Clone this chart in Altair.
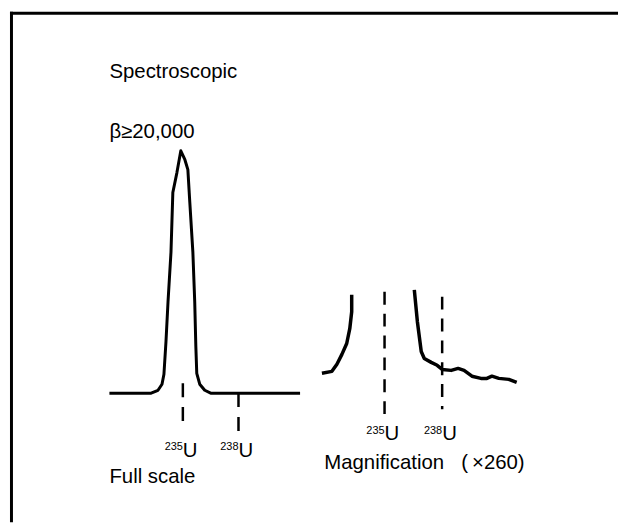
import altair as alt
import pandas as pd

# ---------------- data (mass in u, intensity in % of 235U peak) ----------------
# Full-scale trace
full_mass = [231.04, 233.29, 233.66, 233.875, 233.98, 234.09, 234.20, 234.36, 234.46,
             234.68, 234.89, 235.11, 235.27, 235.375, 235.54, 235.64, 235.70, 235.75,
             235.91, 236.18, 236.50, 241.32]
full_int = [0, 0, 1.2, 3.7, 7.8, 21.3, 37.7, 58.2, 82.8,
            91.0, 100, 96.3, 92.2, 78.7, 58.2, 37.7, 19.3, 8.2,
            3.7, 1.2, 0, 0]

# Magnified (x260) trace: two visible segments
mag_left_mass = [231.74, 232.26, 232.52, 232.78, 233.03, 233.19, 233.29, 233.29]
mag_left_int = [8.2, 9.0, 11.9, 16.0, 20.5, 26.6, 33.6, 40.6]
mag_right_mass = [236.55, 236.71, 236.91, 237.07, 237.43, 237.74, 238.00, 238.47, 238.83,
                  239.14, 239.55, 240.02, 240.33, 240.59, 240.95, 241.47, 241.88]
mag_right_int = [42.6, 29.5, 17.2, 14.3, 12.7, 11.5, 9.8, 9.4, 10.2,
                 9.4, 7.0, 6.1, 6.1, 7.0, 6.1, 5.7, 4.5]

# Isotope marker lines
isotopes = ["235", "238"]
iso_mass = [235, 238]
full_mark_top = [4.1, 0]
full_mark_bot = [-14.3, -16.4]
mag_mark_top = [41.8, 39.8]
mag_mark_bot = [-9.4, -6.6]

# ---------------- scales ----------------
Y_DOM = [-53.279, 157.377]
H = 514
FONT = "Liberation Sans"
FS = 20.5
FS_SUP = 11

def xs(dom):
    return alt.Scale(domain=dom, zero=False, nice=False)

ys = alt.Scale(domain=Y_DOM, zero=False, nice=False)

# ---------------- left panel: full scale ----------------
LX = [225.679, 241.75]
full_df = pd.DataFrame({"mass": full_mass, "intensity": full_int, "order": range(len(full_mass))})
full_line = alt.Chart(full_df).mark_line(color="black", strokeWidth=3, strokeJoin="round").encode(
    x=alt.X("mass:Q", scale=xs(LX), axis=None),
    y=alt.Y("intensity:Q", scale=ys, axis=None),
    order="order:Q",
)
fmark_df = pd.DataFrame({"iso": isotopes, "mass": iso_mass, "top": full_mark_top, "bot": full_mark_bot})
full_marks = alt.Chart(fmark_df).mark_rule(color="black", strokeWidth=2.5, strokeDash=[14, 10]).encode(
    x=alt.X("mass:Q", scale=xs(LX), axis=None),
    y=alt.Y("top:Q", scale=ys, axis=None),
    y2="bot:Q",
)

def text_layer(df, xdom, size, align, field="label"):
    return alt.Chart(df).mark_text(font=FONT, fontSize=size, align=align, baseline="alphabetic",
                                   color="black").encode(
        x=alt.X("mass:Q", scale=xs(xdom), axis=None),
        y=alt.Y("intensity:Q", scale=ys, axis=None),
        text=f"{field}:N",
    )

left_titles = pd.DataFrame({"label": ["Spectroscopic", "β≥20,000", "Full scale"],
                            "mass": [231.04, 231.04, 231.04],
                            "intensity": [129.9, 105.3, -36.9]})
left_sup = pd.DataFrame({"label": isotopes, "mass": iso_mass, "intensity": [-23.4, -23.4]})
left_u = pd.DataFrame({"label": ["U", "U"], "mass": iso_mass, "intensity": [-26.2, -26.2]})

frame_top = alt.Chart(pd.DataFrame({"a": [0]})).mark_rule(color="black", strokeWidth=3).encode(
    x=alt.value(0), x2=alt.value(612), y=alt.value(1.5))
frame_left = alt.Chart(pd.DataFrame({"a": [0]})).mark_rule(color="black", strokeWidth=3).encode(
    x=alt.value(1.5), y=alt.value(0), y2=alt.value(H))

left = alt.layer(
    frame_top, frame_left, full_line, full_marks,
    text_layer(left_titles, LX, FS, "left"),
    text_layer(left_sup, LX, FS_SUP, "right"),
    text_layer(left_u, LX, FS, "left"),
).properties(width=300, height=H)

# ---------------- right panel: magnification ----------------
RX = [231.017, 247.155]
mag_df = pd.DataFrame({
    "mass": mag_left_mass + mag_right_mass,
    "intensity": mag_left_int + mag_right_int,
    "segment": ["a"] * len(mag_left_mass) + ["b"] * len(mag_right_mass),
    "order": list(range(len(mag_left_mass))) + list(range(len(mag_right_mass))),
})
mag_line = alt.Chart(mag_df).mark_line(color="black", strokeWidth=3.5, strokeJoin="round").encode(
    x=alt.X("mass:Q", scale=xs(RX), axis=None),
    y=alt.Y("intensity:Q", scale=ys, axis=None),
    detail="segment:N",
    order="order:Q",
)
mmark_df = pd.DataFrame({"iso": isotopes, "mass": iso_mass, "top": mag_mark_top, "bot": mag_mark_bot})
mag_marks = alt.Chart(mmark_df).mark_rule(color="black", strokeWidth=2.5, strokeDash=[13, 9]).encode(
    x=alt.X("mass:Q", scale=xs(RX), axis=None),
    y=alt.Y("top:Q", scale=ys, axis=None),
    y2="bot:Q",
)
right_sup = pd.DataFrame({"label": isotopes, "mass": iso_mass, "intensity": [-16.8, -16.8]})
right_u = pd.DataFrame({"label": ["U", "U"], "mass": iso_mass, "intensity": [-19.3, -19.3]})
right_title = pd.DataFrame({"label": ["Magnification\u00a0\u00a0\u00a0(\u2009×260)"],
                            "mass": [231.86], "intensity": [-31.1]})

right = alt.layer(
    mag_line, mag_marks,
    text_layer(right_sup, RX, FS_SUP, "right"),
    text_layer(right_u, RX, FS, "left"),
    text_layer(right_title, RX, FS, "left"),
).properties(width=312, height=H)

chart = alt.hconcat(left, right, spacing=0, bounds="flush").resolve_scale(
    x="independent", y="independent"
).properties(
    padding=0, background="white"
).configure_view(stroke=None)

chart.save("out.html", embed_options={"renderer": "svg", "actions": False})
